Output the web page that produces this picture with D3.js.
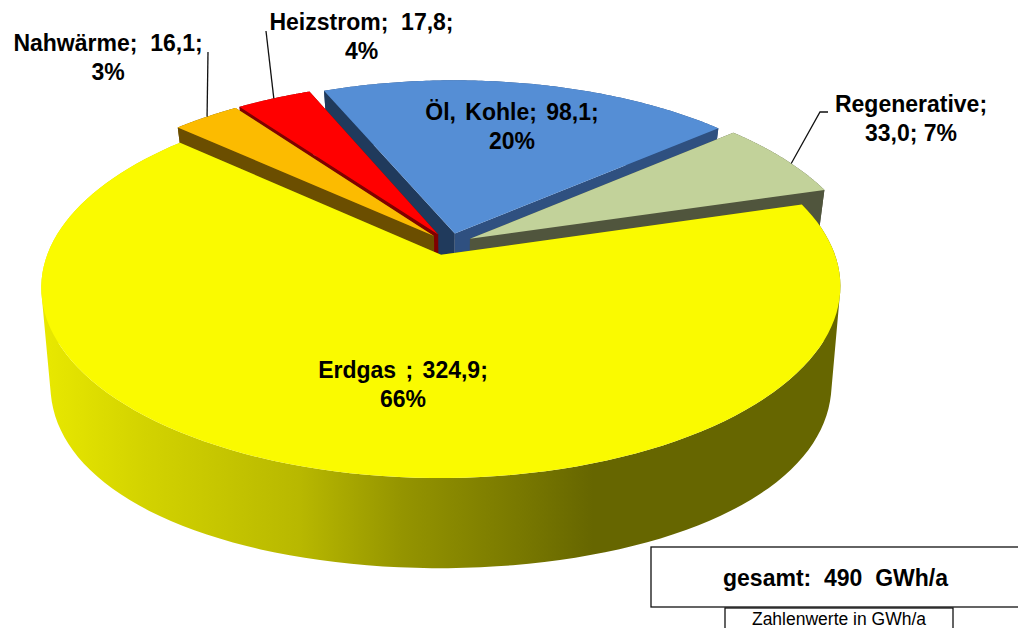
<!DOCTYPE html>
<html><head><meta charset="utf-8">
<style>html,body{margin:0;padding:0;background:#fff;overflow:hidden}svg{display:block}
text{font-family:"Liberation Sans",Arial,sans-serif;fill:#000;white-space:pre}</style>
<script src="https://cdn.jsdelivr.net/npm/d3@7"></script></head><body>
<svg id="c" width="1018" height="628"></svg>
<script>
const categories=["Erdgas ","Nahwärme","Heizstrom","Öl, Kohle","Regenerative"];
const values=[324.9,16.1,17.8,98.1,33.0];
const valueLabels=["324,9","16,1","17,8","98,1","33,0"];
const percentLabels=["66%","3%","4%","20%","7%"];
const separators=[" ","  ","  "," "," "];
const topColors=["#fafa00","#fcbb00","#ff0000","#558ed5","#c2d29a"];
const wallStart=["#666600","#6b4e00","#7f0000","#203a5c","#50553d"];
const wallEnd=["#666600","#6b4e00","#7f0000","#2f5080","#50553d"];
const paintOrder=[3,4,2,1,0];
const totalLabel="gesamt:  490  GWh/a", unitLabel="Zahlenwerte in GWh/a";

const svg=d3.select("#c");
const top_={cx:449.5,cy:244,R:390,A:182,p:.167,px:.167};
const bot={cx:449.5,cy:335,R:380,A:200.7,p:.084,px:.18};
const explode=.06, rot=73.5*Math.PI/180, explodeScaleX=[1.6,1,1,1,1];
const proj=(P,U,V)=>[P.cx+P.R*U/(1-P.px*V),P.cy+P.A*V/(1-P.p*V)];
const pie=d3.pie().sort(null).startAngle(rot).endAngle(rot+2*Math.PI)(values);
const line=d3.line();
const grad=svg.append("defs").append("linearGradient").attr("id","wall").attr("gradientUnits","userSpaceOnUse")
  .attr("x1",45).attr("x2",840).attr("y1",0).attr("y2",0);
[[0,"#e8e800"],[.13,"#d2d200"],[.32,"#b8b800"],[.45,"#949400"],[.6,"#787800"],[.69,"#666600"],[1,"#666600"]]
  .forEach(s=>grad.append("stop").attr("offset",s[0]).attr("stop-color",s[1]));

const offset=i=>{const s=pie[i],mid=(s.startAngle+s.endAngle)/2;
  return [explode*explodeScaleX[i]*Math.sin(mid),-explode*Math.cos(mid)];};

paintOrder.forEach(i=>{
  const s=pie[i], [ox,oy]=offset(i);
  const pt=(P,a,r)=>proj(P,ox+r*Math.sin(a),oy-r*Math.cos(a));
  const arc=(P)=>d3.range(0,121).map(j=>pt(P,s.startAngle+(s.endAngle-s.startAngle)*j/120,1));
  const g=svg.append("g");
  const at=arc(top_), ab=arc(bot);
  const quads=d3.range(0,120).map(j=>{
    const q=[at[j],at[j+1],ab[j+1],ab[j]];
    if(d3.polygonArea(q)<0) q.reverse();
    return line(q)+"Z";}).join("");
  g.append("path").attr("fill",i===0?"url(#wall)":wallEnd[i]).attr("d",quads);
  g.append("path").attr("fill",wallEnd[i]).attr("d",line([pt(top_,s.endAngle,0),pt(top_,s.endAngle,1),pt(bot,s.endAngle,1),pt(bot,s.endAngle,0)])+"Z");
  g.append("path").attr("fill",wallStart[i]).attr("d",line([pt(top_,s.startAngle,0),pt(top_,s.startAngle,1),pt(bot,s.startAngle,1),pt(bot,s.startAngle,0)])+"Z");
  g.append("path").attr("fill",topColors[i]).attr("d",line([pt(top_,0,0)].concat(at))+"Z");
});

const rimPoint=(i,frac)=>{const s=pie[i],[ox,oy]=offset(i),a=s.startAngle+(s.endAngle-s.startAngle)*frac;
  return proj(top_,ox+Math.sin(a),oy-Math.cos(a));};
const leaders=[
  {i:1,frac:.52,via:[[208,52]]},
  {i:2,frac:.5,via:[[266,31]]},
  {i:4,frac:.58,via:[[820,112],[828,112]]}];
leaders.forEach(l=>svg.append("path").attr("fill","none").attr("stroke","#111").attr("stroke-width",1.3)
  .attr("d",line([rimPoint(l.i,l.frac)].concat(l.via))));

const labelPos=[[403,378],[108,51],[361.5,30],[512,120],[911,112]];
const wordGap=[3,0,0,3,0];
const fs=23, lh=29;
const labelLines=i=>i===4
  ? [categories[i]+";",valueLabels[i]+"; "+percentLabels[i]]
  : [categories[i]+";"+separators[i]+valueLabels[i]+";",percentLabels[i]];
categories.forEach((c,i)=>{
  const t=svg.append("text").attr("text-anchor","middle").attr("font-weight","bold").attr("font-size",fs).attr("word-spacing",wordGap[i]);
  labelLines(i).forEach((l,j)=>t.append("tspan").attr("x",labelPos[i][0]).attr("y",labelPos[i][1]+j*lh).text(l));
});

svg.append("rect").attr("x",651).attr("y",547).attr("width",380).attr("height",60).attr("fill","#fff").attr("stroke","#111").attr("stroke-width",1.3);
svg.append("text").attr("x",835.5).attr("y",586).attr("text-anchor","middle").attr("font-weight","bold").attr("font-size",23).text(totalLabel);
svg.append("rect").attr("x",725).attr("y",608).attr("width",228).attr("height",40).attr("fill","#fff").attr("stroke","#111").attr("stroke-width",1.3);
svg.append("text").attr("x",839).attr("y",625).attr("text-anchor","middle").attr("font-size",17.5).text(unitLabel);
</script></body></html>
